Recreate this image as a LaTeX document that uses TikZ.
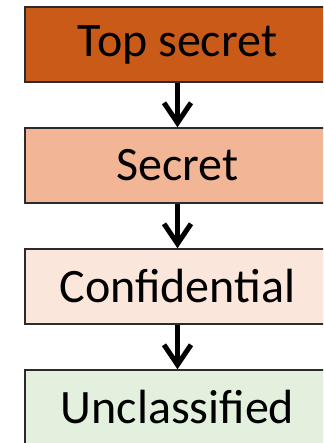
\documentclass[tikz,border=0pt]{standalone}
\usepackage{fontspec}
\setmainfont{Carlito}
\usetikzlibrary{arrows.meta}
\definecolor{topc}{HTML}{C95A18}
\definecolor{secc}{HTML}{F2B595}
\definecolor{conc}{HTML}{FAE6DA}
\definecolor{uncc}{HTML}{E2F0DD}
\definecolor{edgec}{HTML}{2B2B2B}
\tikzset{
  level/.style={draw=edgec, line width=1.5pt, minimum width=305pt, minimum height=75pt,
    inner sep=0pt, font=\fontsize{48pt}{52pt}\selectfont, text=black},
  flow/.style={line width=5pt, black, -{Straight Barb[length=20pt,width=27pt]}}
}
\begin{document}
\begin{tikzpicture}[x=1pt,y=-1pt]
\useasboundingbox (0,0) rectangle (323,443);
\clip (0,0) rectangle (323,443);
\node[level, fill=topc] (ts) at (177.5,44.5) {Top secret};
\node[level, fill=secc] (s) at (177.5,165.5) {Secret};
\node[level, fill=conc] (c) at (177.5,286.5) {Confidential};
\node[level, fill=uncc] (u) at (177.5,407.5) {Unclassified};
\draw[flow] (ts.south) -- (s.north);
\draw[flow] (s.south) -- (c.north);
\draw[flow] (c.south) -- (u.north);
\end{tikzpicture}
\end{document}
